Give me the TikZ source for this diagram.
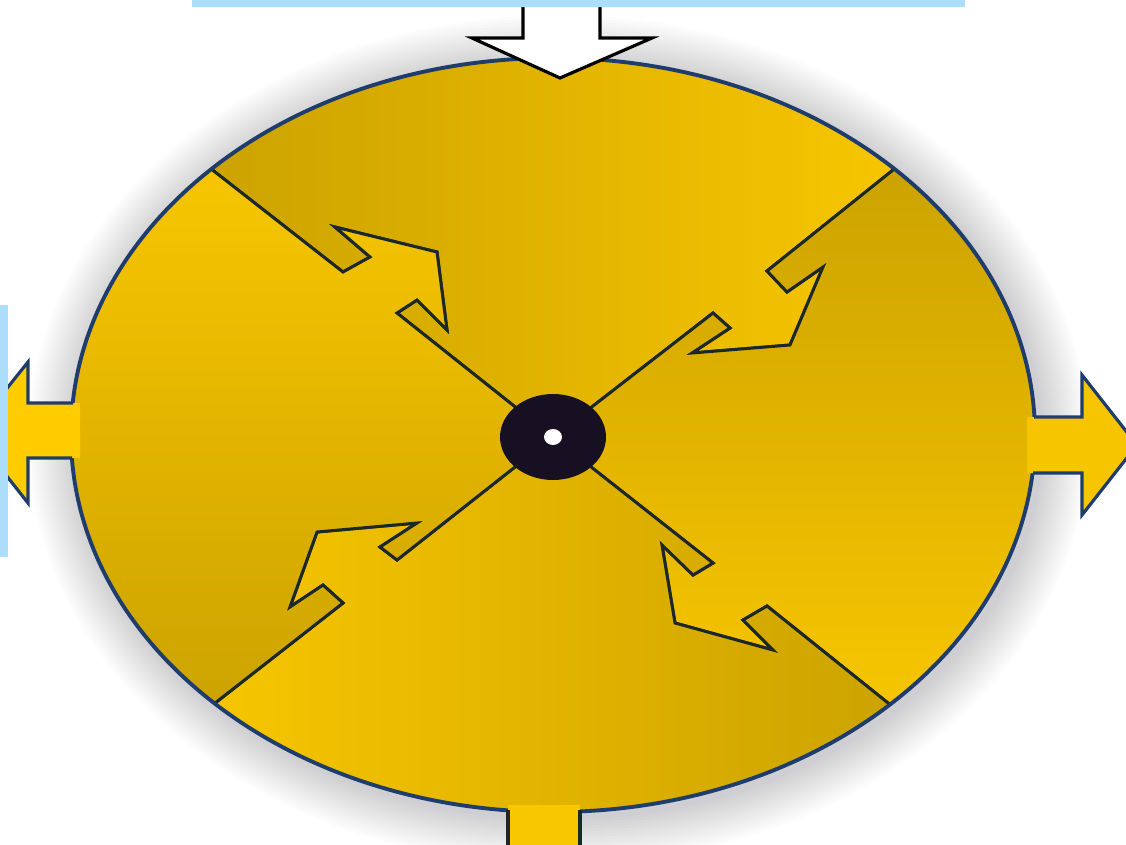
\documentclass[tikz,border=0pt]{standalone}
\definecolor{discgold}{RGB}{196,156,0}
\definecolor{discyellow}{RGB}{255,204,0}
\definecolor{rimblue}{RGB}{30,60,108}
\definecolor{divline}{RGB}{28,40,40}
\definecolor{panelblue}{RGB}{172,221,252}
\definecolor{hubblack}{RGB}{22,16,34}
\tikzset{
  sector/.style={draw=divline, line width=1.7pt, line join=miter},
  rimarrow/.style={draw=rimblue, line width=1.8pt, line join=miter},
  panel/.style={fill=panelblue}
}
\begin{document}
\begin{tikzpicture}[x=0.02cm, y=-0.02cm]
    \useasboundingbox (0,0) rectangle (1126,845);
    \fill[white] (0,0) rectangle (1126,845);

    \coordinate (O) at (553,437);
    \coordinate (E) at (553,435);

    \coordinate (a1) at (397,313);
    \coordinate (a2) at (417,300);
    \coordinate (a3) at (447,330);
    \coordinate (a4) at (437,252);
    \coordinate (a5) at (335,227);
    \coordinate (a6) at (370,257);
    \coordinate (a7) at (343,272);
    \coordinate (a8) at (215,172);
    \coordinate (a9) at (87,72);

    \coordinate (b1) at (713,313);
    \coordinate (b2) at (730,328);
    \coordinate (b3) at (692,353);
    \coordinate (b4) at (790,345);
    \coordinate (b5) at (823,267);
    \coordinate (b6) at (787,292);
    \coordinate (b7) at (767,271);
    \coordinate (b8) at (893,170);
    \coordinate (b9) at (1019,67);

    \coordinate (c1) at (713,563);
    \coordinate (c2) at (693,575);
    \coordinate (c3) at (662,545);
    \coordinate (c4) at (675,623);
    \coordinate (c5) at (773,650);
    \coordinate (c6) at (743,620);
    \coordinate (c7) at (767,606);
    \coordinate (c8) at (893,707);
    \coordinate (c9) at (1019,809);

    \coordinate (d1) at (397,560);
    \coordinate (d2) at (380,547);
    \coordinate (d3) at (417,523);
    \coordinate (d4) at (317,532);
    \coordinate (d5) at (290,607);
    \coordinate (d6) at (323,585);
    \coordinate (d7) at (343,603);
    \coordinate (d8) at (210,707);
    \coordinate (d9) at (77,811);

    \foreach \k in {1,...,16}
      \fill[black!80!blue, opacity=0.011] (558,440) ellipse [x radius={482+3*\k}, y radius={377+3*\k}];

    \begin{scope}
      \clip (E) ellipse [x radius=482, y radius=377];
      \shadedraw[sector, left color=discgold, right color=discyellow]
        (O) -- (a1) -- (a2) -- (a3) -- (a4) -- (a5) -- (a6) -- (a7) -- (a8) -- (a9)
        -- (87,-60) -- (1019,-60)
        -- (b9) -- (b8) -- (b7) -- (b6) -- (b5) -- (b4) -- (b3) -- (b2) -- (b1) -- cycle;
      \shadedraw[sector, top color=discgold, bottom color=discyellow]
        (O) -- (b1) -- (b2) -- (b3) -- (b4) -- (b5) -- (b6) -- (b7) -- (b8) -- (b9)
        -- (1150,67) -- (1150,809)
        -- (c9) -- (c8) -- (c7) -- (c6) -- (c5) -- (c4) -- (c3) -- (c2) -- (c1) -- cycle;
      \shadedraw[sector, left color=discyellow, right color=discgold]
        (O) -- (c1) -- (c2) -- (c3) -- (c4) -- (c5) -- (c6) -- (c7) -- (c8) -- (c9)
        -- (1019,900) -- (77,900)
        -- (d9) -- (d8) -- (d7) -- (d6) -- (d5) -- (d4) -- (d3) -- (d2) -- (d1) -- cycle;
      \shadedraw[sector, top color=discyellow, bottom color=discgold]
        (O) -- (d1) -- (d2) -- (d3) -- (d4) -- (d5) -- (d6) -- (d7) -- (d8) -- (d9)
        -- (-50,811) -- (-50,72)
        -- (a9) -- (a8) -- (a7) -- (a6) -- (a5) -- (a4) -- (a3) -- (a2) -- (a1) -- cycle;
    \end{scope}
    \draw[rimblue, line width=2.2pt] (E) ellipse [x radius=482, y radius=377];

    \fill[discyellow] (80,403) -- (28,403) -- (28,362) -- (-28,432) -- (28,503) -- (28,458) -- (80,458) -- cycle;
    \draw[rimarrow] (73,403) -- (28,403) -- (28,362) -- (-28,432) -- (28,503) -- (28,458) -- (72,458);

    \fill[discyellow!85!discgold] (1027,417) -- (1082,417) -- (1082,375) -- (1137,445) -- (1082,515) -- (1082,473) -- (1027,473) -- cycle;
    \draw[rimarrow] (1034,417) -- (1082,417) -- (1082,375) -- (1137,445) -- (1082,515) -- (1082,473) -- (1033,473);

    \fill[discyellow!90!discgold] (508,805) -- (508,860) -- (580,860) -- (580,805) -- cycle;
    \draw[rimarrow, draw=divline] (508,810) -- (508,860);
    \draw[rimarrow, draw=divline] (580,810) -- (580,860);

    \filldraw[fill=white, draw=black, line width=1.8pt, line join=miter]
      (523,-10) -- (523,38) -- (472,38) -- (560,78) -- (652,38) -- (600,38) -- (600,-10);

    \fill[hubblack] (O) ellipse [x radius=53, y radius=43];
    \fill[white] (O) ellipse [x radius=9, y radius=8];

    \fill[panel] (192,0) rectangle (965,7);
    \fill[panel] (0,305) rectangle (8,557);
  \end{tikzpicture}
\end{document}
